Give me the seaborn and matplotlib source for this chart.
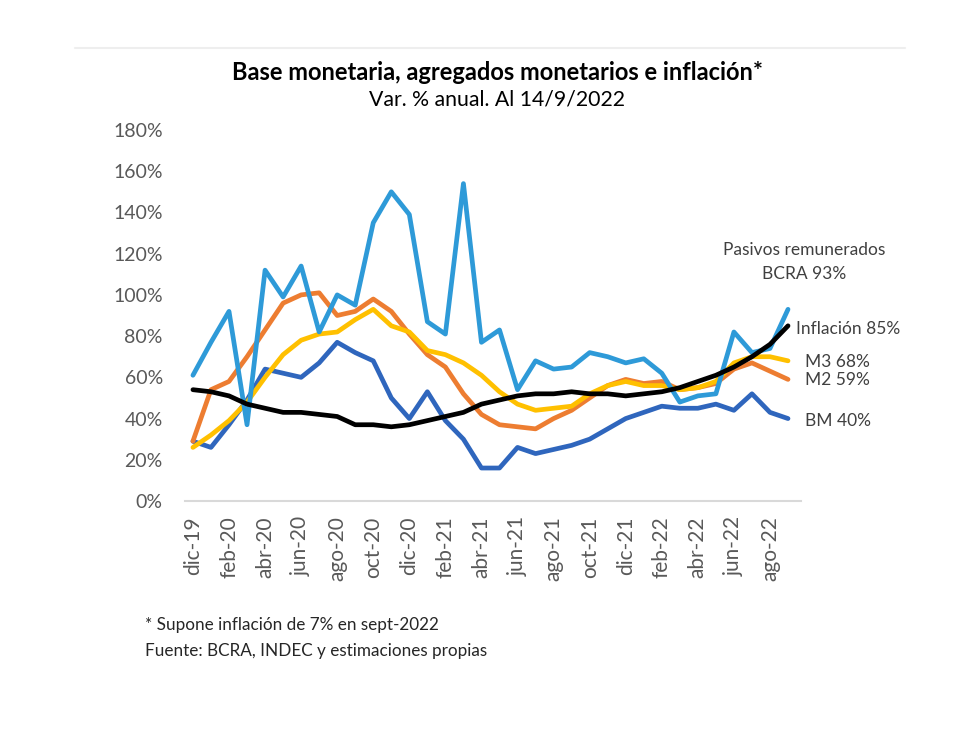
import numpy as np
import pandas as pd
import matplotlib
matplotlib.use("Agg")
import matplotlib.pyplot as plt
import seaborn as sns
from matplotlib.lines import Line2D

# Datos (var. % anual), dic-19 a sep-22
meses = ["dic-19", "ene-20", "feb-20", "mar-20", "abr-20", "may-20", "jun-20", "jul-20",
         "ago-20", "sep-20", "oct-20", "nov-20", "dic-20", "ene-21", "feb-21", "mar-21",
         "abr-21", "may-21", "jun-21", "jul-21", "ago-21", "sep-21", "oct-21", "nov-21",
         "dic-21", "ene-22", "feb-22", "mar-22", "abr-22", "may-22", "jun-22", "jul-22",
         "ago-22", "sep-22"]

bm = [29, 26, 37, 49, 64, 62, 60, 67, 77, 72, 68, 50, 40, 53, 39, 30, 16, 16,
      26, 23, 25, 27, 30, 35, 40, 43, 46, 45, 45, 47, 44, 52, 43, 40]
m2 = [29, 54, 58, 70, 83, 96, 100, 101, 90, 92, 98, 92, 81, 71, 65, 52, 42, 37,
      36, 35, 40, 44, 50, 56, 59, 57, 58, 54, 55, 57, 64, 67, 63, 59]
m3 = [26, 32, 39, 48, 60, 71, 78, 81, 82, 88, 93, 85, 82, 73, 71, 67, 61, 53,
      47, 44, 45, 46, 52, 56, 58, 56, 56, 54, 55, 58, 67, 70, 70, 68]
pasivos = [61, 77, 92, 37, 112, 99, 114, 82, 100, 95, 135, 150, 139, 87, 81, 154, 77, 83,
           54, 68, 64, 65, 72, 70, 67, 69, 62, 48, 51, 52, 82, 72, 74, 93]
inflacion = [54, 53, 51, 47, 45, 43, 43, 42, 41, 37, 37, 36, 37, 39, 41, 43, 47, 49,
             51, 52, 52, 53, 52, 52, 51, 52, 53, 55, 58, 61, 65, 70, 76, 85]

series = {"BM": bm, "M2": m2, "M3": m3, "Pasivos": pasivos, "Inflación": inflacion}
colores = {"BM": "#2f66bd", "M2": "#ed7d31", "M3": "#ffc000",
           "Pasivos": "#2e9ad8", "Inflación": "#000000"}

df = pd.concat([pd.DataFrame({"idx": np.arange(len(meses)), "valor": v, "serie": k})
                for k, v in series.items()], ignore_index=True)

sns.set_style("white")
plt.rcParams["font.family"] = ["Lato", "DejaVu Sans"]

fig = plt.figure(figsize=(9.8, 7.31), dpi=100)
ax = fig.add_axes([185 / 980, 1 - 501 / 731, 616 / 980, 371 / 731])

sns.lineplot(data=df, x="idx", y="valor", hue="serie", hue_order=list(series.keys()),
             palette=colores, linewidth=3.4, legend=False, ax=ax)

ax.set_xlim(-0.44, 33.72)
ax.set_ylim(0, 180)
ax.set_xlabel("")
ax.set_ylabel("")

ticks_x = list(range(0, len(meses), 2))
ax.set_xticks(ticks_x)
ax.set_xticklabels([meses[i] for i in ticks_x], rotation=90, fontsize=15, color="#595959")
ax.set_yticks(range(0, 181, 20))
ax.set_yticklabels([f"{v}%" for v in range(0, 181, 20)], fontsize=14, color="#595959")
ax.tick_params(axis="y", length=0, pad=16)
ax.tick_params(axis="x", length=0, pad=11)

for s in ["top", "right", "left"]:
    ax.spines[s].set_visible(False)
ax.spines["bottom"].set_color("#d9d9d9")
ax.spines["bottom"].set_linewidth(1.5)

# Etiquetas al final de las series
lab = dict(fontsize=12.5, color="#404040", va="center")
ax.text(33.9, 122, "Pasivos remunerados", ha="center", **lab)
ax.text(33.9, 110, "BCRA 93%", ha="center", **lab)
ax.text(33.45, 83.5, "Inflación 85%", ha="left", **lab)
ax.text(33.95, 67.5, "M3 68%", ha="left", **lab)
ax.text(33.95, 58.5, "M2 59%", ha="left", **lab)
ax.text(33.95, 39, "BM 40%", ha="left", **lab)

# Títulos
fig.text(497 / 980, 1 - 72 / 731, "Base monetaria, agregados monetarios e inflación*",
         ha="center", va="center", fontsize=17, fontweight="bold", color="#000000")
fig.text(497 / 980, 1 - 100 / 731, "Var. % anual. Al 14/9/2022",
         ha="center", va="center", fontsize=15.3, color="#000000")

# Notas
fig.text(145 / 980, 1 - 625 / 731, "* Supone inflación de 7% en sept-2022",
         ha="left", va="center", fontsize=12.3, color="#262626")
fig.text(145 / 980, 1 - 651 / 731, "Fuente: BCRA, INDEC y estimaciones propias",
         ha="left", va="center", fontsize=12.3, color="#262626")

# borde superior tenue del área del gráfico
fig.add_artist(Line2D([75 / 980, 905 / 980], [1 - 48 / 731, 1 - 48 / 731],
                      color="#eeeeee", linewidth=1.5))

fig.savefig("out.png", dpi=100)
